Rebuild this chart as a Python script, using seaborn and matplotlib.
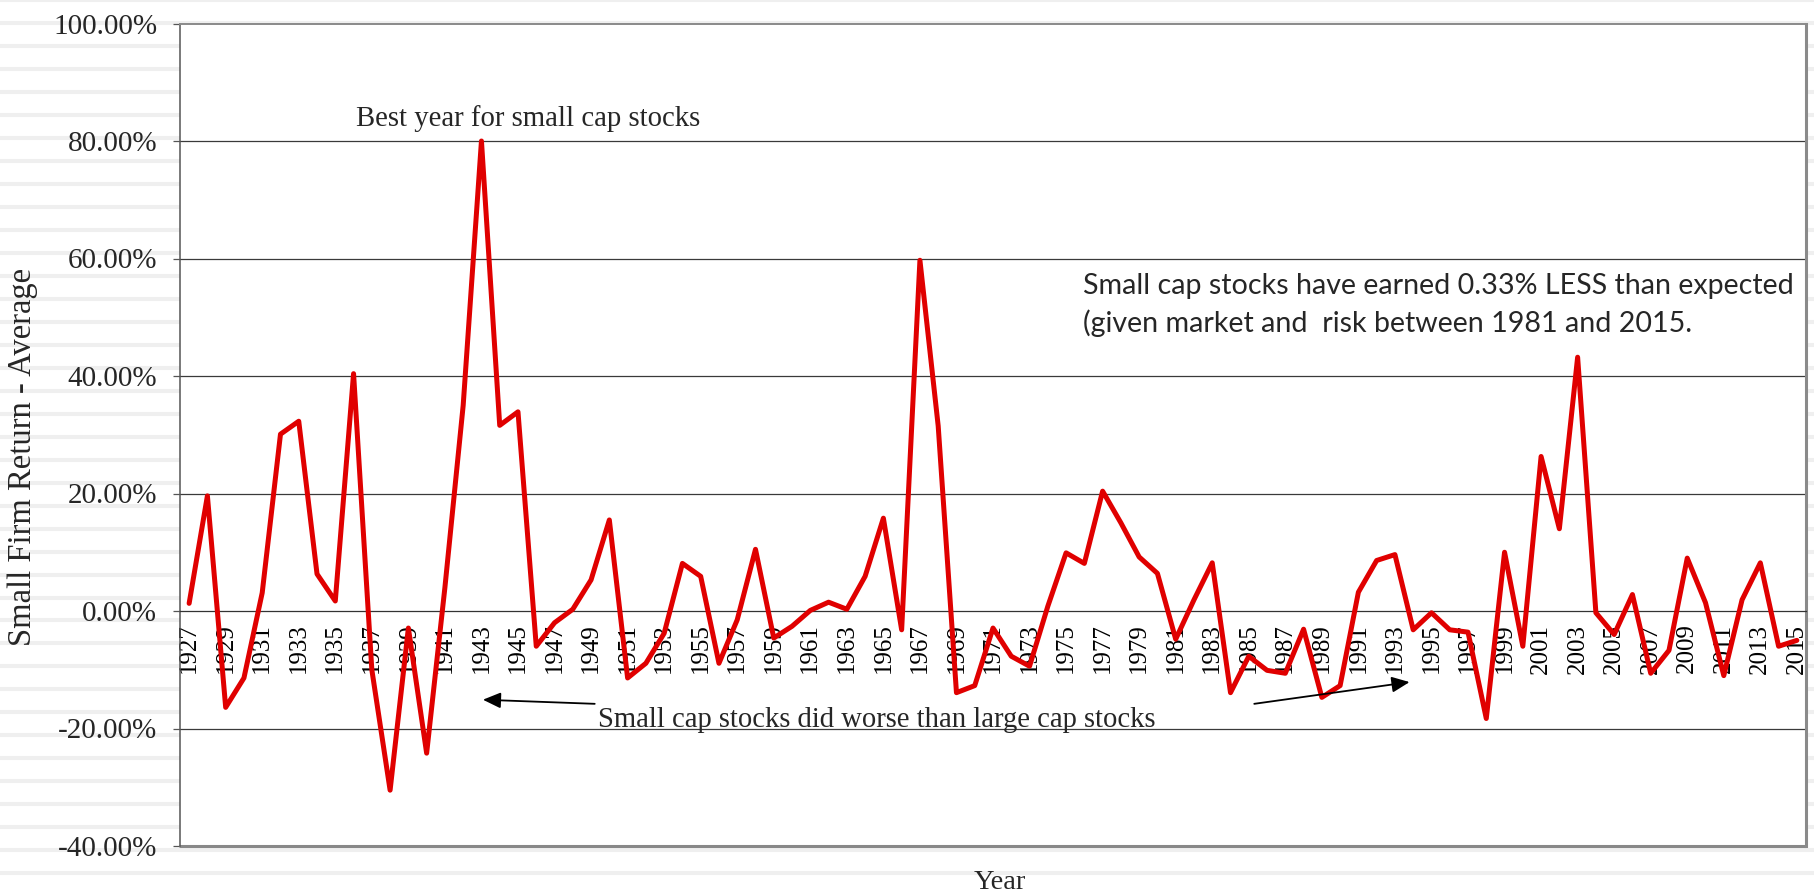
import numpy as np
import pandas as pd
import matplotlib
matplotlib.use("Agg")
import matplotlib.pyplot as plt
import seaborn as sns

# Annual small-firm return relative to the average, in percent
years = list(range(1927, 2016))
returns = [
    1.3, 19.6, -16.4, -11.4, 3.1, 30.1, 32.3, 6.3, 1.7, 40.4,
    -10.0, -30.5, -2.9, -24.2, 4.0, 35.0, 80.0, 31.6, 33.9, -6.0,
    -2.0, 0.3, 5.3, 15.5, -11.4, -8.9, -3.8, 8.1, 5.9, -8.9,
    -1.5, 10.5, -4.6, -2.6, 0.1, 1.5, 0.3, 5.9, 15.8, -3.2,
    59.7, 31.5, -13.9, -12.7, -2.9, -7.7, -9.4, 0.8, 9.9, 8.1,
    20.4, 15.0, 9.2, 6.4, -4.8, 1.9, 8.2, -13.9, -7.7, -10.1,
    -10.6, -3.1, -14.7, -12.7, 3.2, 8.6, 9.6, -3.2, -0.3, -3.2,
    -3.6, -18.3, 10.0, -6.0, 26.3, 14.0, 43.2, -0.3, -4.0, 2.8,
    -10.6, -6.7, 9.0, 1.4, -11.0, 1.9, 8.2, -6.0, -5.0,
]
y_ticks = [-40, -20, 0, 20, 40, 60, 80, 100]

sns.set_theme(style="white")
plt.rcParams["font.family"] = ["Liberation Serif", "DejaVu Serif"]

W, H = 1815, 893
fig = plt.figure(figsize=(W / 100, H / 100), dpi=100, facecolor="white")

# Striped slide background
bg = fig.add_axes([0, 0, 1, 1], zorder=-10)
bg.set_xlim(0, 1)
bg.set_ylim(H, 0)
bg.axis("off")
bg.hlines(np.arange(0.3, H + 5, 22.97), 0, 1, color="#EFEFEF", lw=2.9)

left, right, top, bottom = 180, 1806, 23.5, 846
ax = fig.add_axes([left / W, 1 - bottom / H, (right - left) / W, (bottom - top) / H], zorder=1)
ax.set_facecolor("white")

df = pd.DataFrame({"idx": np.arange(len(years)), "ret": returns})
sns.lineplot(data=df, x="idx", y="ret", ax=ax, color="#E00000", lw=3.6,
             solid_joinstyle="round", solid_capstyle="round", zorder=5)

ax.set_xlim(-0.5, len(years) - 0.5)
ax.set_ylim(-40, 100)

# Horizontal gridlines
for v in [-20, 20, 40, 60, 80]:
    ax.axhline(v, color="#3A3A3A", lw=0.9, zorder=1)
ax.axhline(-40, color="#888888", lw=2.2, clip_on=False, zorder=2)

# Spines
ax.spines["bottom"].set_position(("data", 0))
ax.spines["bottom"].set_color("#333333")
ax.spines["bottom"].set_linewidth(0.9)
ax.spines["left"].set_color("#555555")
ax.spines["left"].set_linewidth(1.1)
ax.spines["top"].set_color("#8A8A8A")
ax.spines["top"].set_linewidth(1.4)
ax.spines["right"].set_color("#8A8A8A")
ax.spines["right"].set_linewidth(2.2)

# Category axis: marks between years, labels on every other year
ax.set_xticks(np.arange(0, len(years), 2))
ax.set_xticklabels([str(y) for y in years[::2]], rotation=90, fontsize=18)
ax.set_xticks(np.arange(-0.5, len(years), 1), minor=True)
ax.tick_params(axis="x", which="major", length=0, pad=9, colors="black")
ax.tick_params(axis="x", which="minor", length=4, width=0.9, color="#333333", direction="out")

ax.set_yticks(y_ticks)
ax.set_yticklabels([f"{v:.2f}%" for v in y_ticks], fontsize=21)
ax.tick_params(axis="y", which="major", length=5, width=0.9, color="#555555",
               direction="out", pad=11.5, left=True)
ax.set_xlabel("")
ax.set_ylabel("")

# Axis titles
fig.text(23 / W, 1 - 457 / H, "Small Firm Return - Average", rotation=90,
         ha="center", va="center", fontsize=23.5)
fig.text(1000 / W, 1 - 889 / H, "Year", ha="center", va="baseline", fontsize=20.5)

# Annotations
ax.text(9.13, 82.5, "Best year for small cap stocks", ha="left", va="baseline",
        fontsize=20.7, zorder=6)
ax.text(22.4, -19.7, "Small cap stocks did worse than large cap stocks",
        ha="left", va="baseline", fontsize=20.6, zorder=6)
ax.annotate("", xy=(16.08, -15.1), xytext=(22.2, -15.8),
            arrowprops=dict(arrowstyle="-|>,head_length=0.9,head_width=0.4",
                            color="black", lw=1.3, shrinkA=0, shrinkB=0), zorder=6)
ax.annotate("", xy=(66.8, -12.1), xytext=(58.3, -15.8),
            arrowprops=dict(arrowstyle="-|>,head_length=0.9,head_width=0.4",
                            color="black", lw=1.3, shrinkA=0, shrinkB=0), zorder=6)
ax.text(48.9, 54.0, "Small cap stocks have earned 0.33% LESS than expected",
        ha="left", va="baseline", fontsize=20.6, family=["Lato", "DejaVu Sans"], zorder=6)
ax.text(48.9, 47.5, "(given market and  risk between 1981 and 2015.",
        ha="left", va="baseline", fontsize=20.6, family=["Lato", "DejaVu Sans"], zorder=6)

fig.savefig("out.png", dpi=100, facecolor="white")
